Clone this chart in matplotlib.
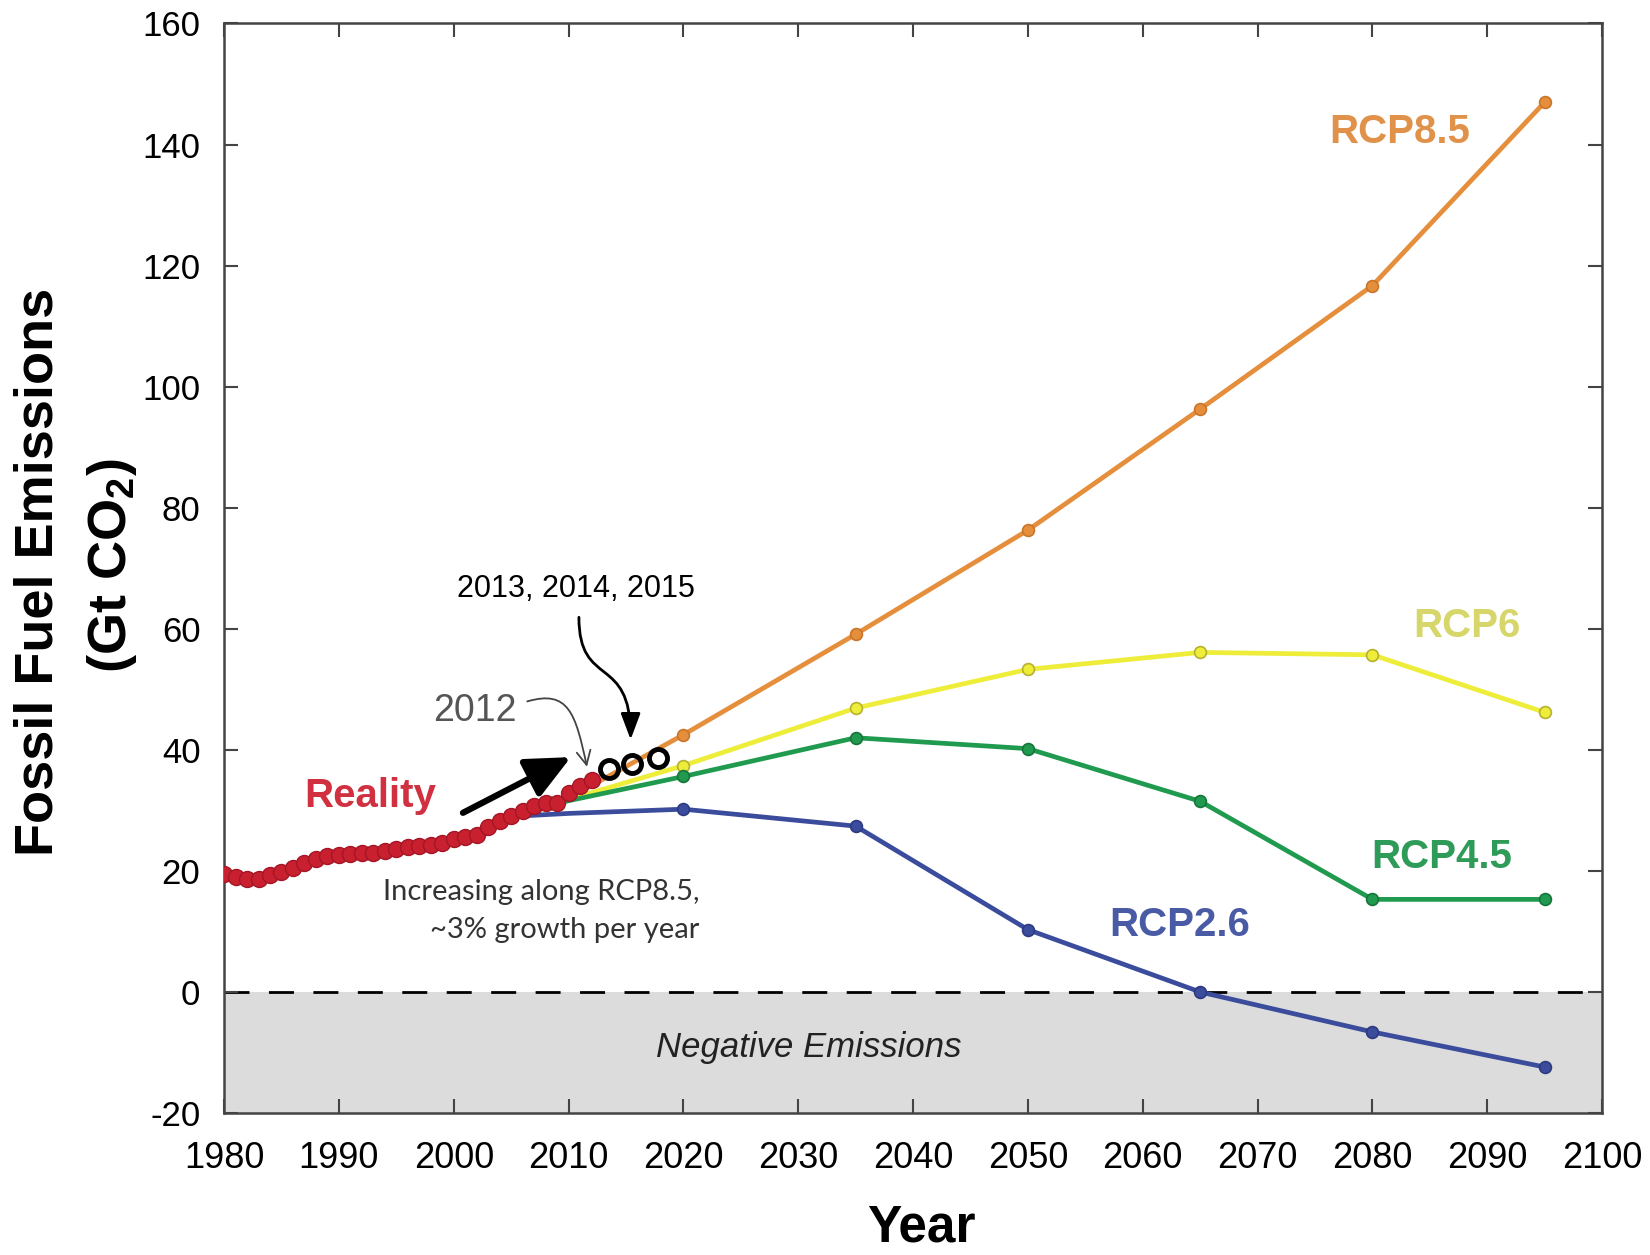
import matplotlib
matplotlib.use("Agg")
import matplotlib.pyplot as plt
from matplotlib.patches import FancyArrowPatch
from matplotlib.path import Path

plt.rcParams['font.family'] = ['Liberation Sans', 'DejaVu Sans']
plt.rcParams['mathtext.fontset'] = 'custom'
plt.rcParams['mathtext.rm'] = 'Liberation Sans'
plt.rcParams['mathtext.bf'] = 'Liberation Sans:bold'
plt.rcParams['axes.unicode_minus'] = False

# observed fossil emissions (Gt CO2)
obs_years = list(range(1980, 2013))
obs_vals = [19.5, 19.0, 18.6, 18.7, 19.3, 19.9, 20.5, 21.3, 22.0, 22.4,
            22.6, 22.8, 22.9, 23.0, 23.3, 23.6, 24.0, 24.2, 24.3, 24.6,
            25.2, 25.6, 26.0, 27.2, 28.3, 29.1, 29.9, 30.7, 31.2, 31.3,
            32.8, 34.0, 35.0]

# 2013-2015 points
recent_x = [2013.5, 2015.5, 2017.8]
recent_y = [36.9, 37.7, 38.6]

# scenario pathways
rcp_years = [2005, 2010, 2020, 2035, 2050, 2065, 2080, 2095]
rcp85 = [29.0, 32.0, 42.5, 59.1, 76.3, 96.3, 116.7, 147.0]
rcp6 = [29.0, 31.8, 37.4, 46.9, 53.3, 56.1, 55.7, 46.2]
rcp45 = [29.0, 31.6, 35.6, 42.0, 40.2, 31.5, 15.3, 15.3]
rcp26 = [29.0, 29.5, 30.2, 27.4, 10.3, 0.0, -6.6, -12.4]

scenarios = [
    ("RCP8.5", rcp85, "#E58E3C", "#C9752B", "#E0924A", (2082.4, 142.1)),
    ("RCP6", rcp6, "#EDED3A", "#B8B030", "#D6D66B", (2088.2, 60.4)),
    ("RCP4.5", rcp45, "#1F9A4E", "#17753B", "#2E9B58", (2086.0, 22.3)),
    ("RCP2.6", rcp26, "#3B4C9C", "#2D3A80", "#4A5BA6", (2063.2, 11.1)),
]

fig = plt.figure(figsize=(16.5, 12.55), dpi=100)
ax = fig.add_axes([0.1358, 0.1131, 0.8352, 0.8682])

ax.axhspan(-20, 0, color='#DCDCDC', zorder=0, lw=0)
ax.axhline(0, color='black', lw=2, dashes=(9, 7), zorder=1)

for name, vals, col, mcol, tcol, pos in scenarios:
    ax.plot(rcp_years, vals, color=col, lw=3.4, zorder=2,
            marker='o', markersize=8.5, markerfacecolor=col,
            markeredgecolor=mcol, markeredgewidth=1.2,
            markevery=list(range(2, len(rcp_years))))
    ax.text(pos[0], pos[1], name, color=tcol, fontsize=29,
            fontweight='bold', ha='center', va='center')

ax.plot(obs_years, obs_vals, color='#C8202E', lw=3, marker='o',
        markersize=11.5, markerfacecolor='#C8202E',
        markeredgecolor='#A51525', markeredgewidth=1, zorder=4)

ax.plot(recent_x, recent_y, linestyle='none', marker='o', markersize=13,
        markerfacecolor='none', markeredgecolor='black',
        markeredgewidth=3.5, zorder=5)

# labels inside the plot
ax.text(1992.7, 32.3, "Reality", color='#D0303F', fontsize=29,
        fontweight='bold', ha='center', va='center')
ax.text(2021.4, 16.5, "Increasing along RCP8.5,", color='#333333',
        fontsize=21, family='Lato', ha='right', va='center')
ax.text(2021.4, 10.3, "~3% growth per year", color='#333333',
        fontsize=21, family='Lato', ha='right', va='center')
ax.text(2030.9, -9.1, "Negative Emissions", color='#222222', fontsize=25,
        style='italic', ha='center', va='center')
ax.text(2010.6, 66.5, "2013, 2014, 2015", color='black', fontsize=22,
        ha='center', va='center')
ax.text(2001.8, 46.5, "2012", color='#555555', fontsize=27,
        ha='center', va='center')

# thick arrow pointing along the trend
ax.annotate('', xy=(2010.2, 38.8), xytext=(2000.8, 29.6),
            arrowprops=dict(arrowstyle='-|>,head_length=0.6,head_width=0.28',
                            lw=4.5, color='black', mutation_scale=45,
                            shrinkA=0, shrinkB=0), zorder=6)

# curved pointer from the 2013-2015 label
p1 = Path([(2010.9, 61.9), (2010.9, 50.0), (2015.4, 56.0), (2015.4, 41.7)],
          [Path.MOVETO, Path.CURVE4, Path.CURVE4, Path.CURVE4])
ax.add_patch(FancyArrowPatch(path=p1, arrowstyle='-|>,head_length=0.8,head_width=0.3',
                             mutation_scale=20, lw=2, color='black', zorder=6))

# thin pointer from the 2012 label
p2 = Path([(2006.4, 48.0), (2010.0, 50.0), (2010.6, 46.0), (2011.6, 37.2)],
          [Path.MOVETO, Path.CURVE4, Path.CURVE4, Path.CURVE4])
ax.add_patch(FancyArrowPatch(path=p2, arrowstyle='->,head_length=0.5,head_width=0.25',
                             mutation_scale=20, lw=1.3, color='#444444', zorder=6))

ax.set_xlim(1980, 2100)
ax.set_ylim(-20, 160)
ax.set_xticks(range(1980, 2101, 10))
ax.set_yticks(range(-20, 161, 20))
ax.tick_params(axis='both', direction='in', length=10, width=1.5,
               color='#444444', top=True, right=True)
ax.tick_params(axis='x', labelsize=26, pad=20)
ax.tick_params(axis='y', labelsize=25, pad=17)
for s in ax.spines.values():
    s.set_color('#444444')
    s.set_linewidth(1.8)

fig.text(39 / 1650, 1 - 572 / 1255, "Fossil Fuel Emissions", rotation=90,
         fontsize=39, fontweight='bold', ha='center', va='center')
fig.text(112 / 1650, 1 - 566 / 1255, r"(Gt CO$_\mathbf{2}$)", rotation=90,
         fontsize=39, fontweight='bold', ha='center', va='center')
fig.text(921 / 1650, 1 - 1228 / 1255, "Year", fontsize=37,
         fontweight='bold', ha='center', va='center')

fig.savefig("out.png", dpi=100)
